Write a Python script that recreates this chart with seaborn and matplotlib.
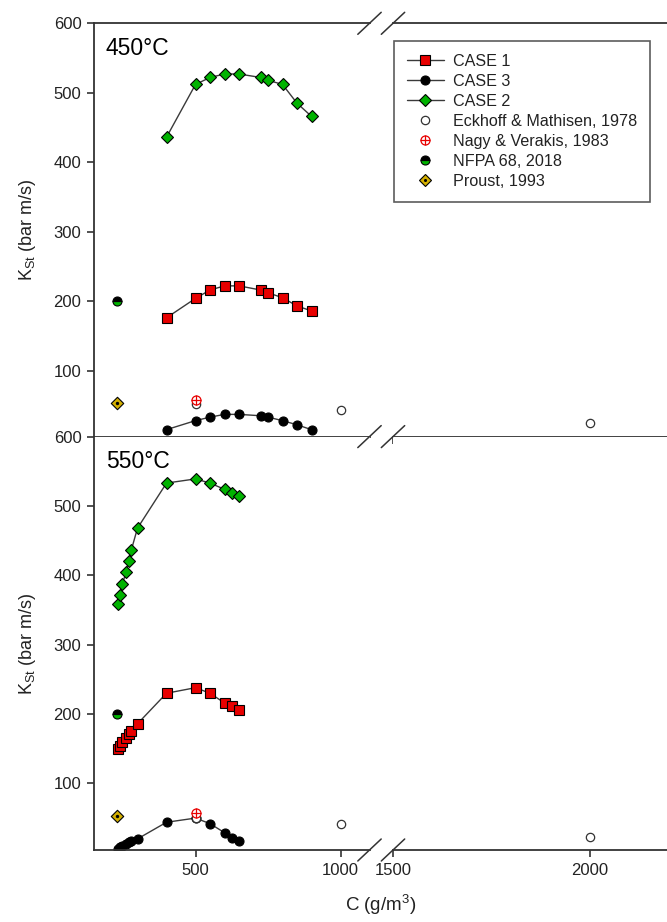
import numpy as np
import pandas as pd
import matplotlib
matplotlib.use("Agg")
import matplotlib.pyplot as plt
import seaborn as sns
from matplotlib.lines import Line2D
from matplotlib.legend_handler import HandlerTuple

# ---------------- data ----------------
top_x = [400, 500, 550, 600, 650, 725, 750, 800, 850, 900]
top_case1 = [176, 204, 216, 222, 222, 216, 212, 205, 193, 186]
top_case3 = [15, 28, 33, 37, 37, 35, 33, 28, 22, 15]
top_case2 = [436, 512, 522, 527, 527, 522, 518, 512, 485, 466]

bot_x = [233, 239, 248, 261, 269, 279, 300, 400, 500, 550, 600, 625, 650]
bot_case1 = [149, 154, 160, 165, 171, 176, 186, 230, 238, 230, 216, 211, 206]
bot_case3 = [6, 8, 10, 13, 15, 17, 20, 44, 50, 42, 29, 22, 17]
bot_case2 = [358, 371, 388, 405, 421, 437, 468, 533, 539, 533, 524, 519, 514]

eck_x = [500, 1000, 2000]
eck_top = [52, 43, 24]
eck_bot = [50, 41, 23]
nagy_x = [500]
nagy_top = [58]
nagy_bot = [58]
nfpa_x = [230]
nfpa_top = [200]
nfpa_bot = [200]
proust_x = [230]
proust_top = [54]
proust_bot = [53]

panel_labels = ["450°C", "550°C"]
yticks = [100, 200, 300, 400, 500, 600]
xticks_left = [500, 1000]
xticks_right = [1500, 2000]
legend_labels = ["CASE 1", "CASE 3", "CASE 2", "Eckhoff & Mathisen, 1978",
                 "Nagy & Verakis, 1983", "NFPA 68, 2018", "Proust, 1993"]

# ---------------- style ----------------
sns.set_theme(style="ticks")
plt.rcParams["font.family"] = ["Liberation Sans", "DejaVu Sans"]
plt.rcParams["axes.edgecolor"] = "#333333"
plt.rcParams["axes.linewidth"] = 1.3

RED = "#e80000"
GREEN = "#00b300"
GOLD = "#d4b000"
LINE = "#3a3a3a"
TXT = "#222222"

W, H = 667, 922
fig = plt.figure(figsize=(W / 100, H / 100), dpi=100)


def fx(px):
    return px / W


def fy(py):
    return 1 - py / H


XL = (94, 369.5)
XR = (393, 667)
panels = [(23.3, 436.6), (436.6, 850)]
ylims = [(5, 600), (4, 600)]

series_top = dict(x=top_x, c1=top_case1, c3=top_case3, c2=top_case2,
                  eck=eck_top, nagy=nagy_top, nfpa=nfpa_top, proust=proust_top)
series_bot = dict(x=bot_x, c1=bot_case1, c3=bot_case3, c2=bot_case2,
                  eck=eck_bot, nagy=nagy_bot, nfpa=nfpa_bot, proust=proust_bot)

for i, ((ytop, ybot), S, ylim) in enumerate(zip(panels, [series_top, series_bot], ylims)):
    axl = fig.add_axes([fx(XL[0]), fy(ybot), fx(XL[1]) - fx(XL[0]), fy(ytop) - fy(ybot)])
    axr = fig.add_axes([fx(XR[0]), fy(ybot), fx(XR[1]) - fx(XR[0]), fy(ytop) - fy(ybot)])
    df = pd.DataFrame({"C": S["x"], "c1": S["c1"], "c3": S["c3"], "c2": S["c2"]})
    common = dict(color=LINE, linewidth=1.0, markeredgecolor="black",
                  markeredgewidth=0.8, ax=axl, legend=False)
    sns.lineplot(data=df, x="C", y="c2", marker="D", markersize=6.4,
                 markerfacecolor=GREEN, **common)
    sns.lineplot(data=df, x="C", y="c1", marker="s", markersize=7.2,
                 markerfacecolor=RED, **common)
    sns.lineplot(data=df, x="C", y="c3", marker="o", markersize=6.5,
                 markerfacecolor="black", **common)

    # reference data
    for ax in (axl, axr):
        lo, hi = (150, 1100) if ax is axl else (1500, 2195)
        ex = [x for x in eck_x if lo <= x <= hi]
        ey = [y for x, y in zip(eck_x, S["eck"]) if lo <= x <= hi]
        if ex:
            sns.scatterplot(x=ex, y=ey, marker="o", s=36, facecolor="white",
                            edgecolor="#333333", linewidth=0.9, ax=ax, zorder=5, legend=False)
    sns.scatterplot(x=nagy_x, y=S["nagy"], marker="o", s=42, facecolor="white",
                    edgecolor=RED, linewidth=0.9, ax=axl, zorder=6, legend=False)
    sns.scatterplot(x=nagy_x, y=S["nagy"], marker="+", s=42, color=RED,
                    linewidth=0.9, ax=axl, zorder=7, legend=False)
    sns.lineplot(x=nfpa_x, y=S["nfpa"], marker="o", markersize=6.5, linestyle="",
                 fillstyle="bottom", markerfacecolor=GREEN, markerfacecoloralt="black",
                 markeredgecolor="black", markeredgewidth=0.8, ax=axl, legend=False)
    sns.scatterplot(x=proust_x, y=S["proust"], marker="D", s=40, facecolor=GOLD,
                    edgecolor="black", linewidth=0.8, ax=axl, zorder=5, legend=False)
    sns.scatterplot(x=proust_x, y=S["proust"], marker="o", s=6, color="black",
                    linewidth=0, ax=axl, zorder=6, legend=False)

    for ax in (axl, axr):
        ax.set_ylim(*ylim)
        ax.set_xlabel("")
        ax.set_ylabel("")
        ax.spines["right"].set_visible(False)
        ax.spines["top"].set_visible(i == 0)
    axl.set_xlim(150, 1100)
    axr.set_xlim(1500, 2195)
    axr.spines["left"].set_visible(False)
    axl.set_yticks(yticks)
    axr.set_yticks([])
    axl.set_xticks(xticks_left)
    axr.set_xticks(xticks_right)
    for ax in (axl, axr):
        ax.tick_params(axis="both", direction="out", length=5, width=1.2,
                       color="#333333", labelsize=12, labelcolor=TXT, pad=4)
        ax.tick_params(axis="x", labelbottom=(i == 1))
    axl.set_ylabel(r"K$_\mathregular{St}$ (bar m/s)", fontsize=13, color=TXT)
    axl.yaxis.set_label_coords((38 - XL[0]) / (XL[1] - XL[0]), 0.5)
    fig.text(fx(106), fy(ytop + 25), panel_labels[i], fontsize=16.5, color="black",
             ha="left", va="center")

    if i == 0:
        handles = [
            Line2D([], [], color=LINE, lw=1.0, marker="s", ms=7.2, mfc=RED, mec="black", mew=0.8),
            Line2D([], [], color=LINE, lw=1.0, marker="o", ms=6.5, mfc="black", mec="black", mew=0.8),
            Line2D([], [], color=LINE, lw=1.0, marker="D", ms=6.4, mfc=GREEN, mec="black", mew=0.8),
            Line2D([], [], ls="", marker="o", ms=6, mfc="white", mec="#333333", mew=0.9),
            (Line2D([], [], ls="", marker="o", ms=6.5, mfc="white", mec=RED, mew=0.9),
             Line2D([], [], ls="", marker="+", ms=6.5, mec=RED, mew=0.9)),
            Line2D([], [], ls="", marker="o", ms=6.5, fillstyle="bottom", mfc=GREEN,
                   markerfacecoloralt="black", mec="black", mew=0.8),
            (Line2D([], [], ls="", marker="D", ms=6, mfc=GOLD, mec="black", mew=0.8),
             Line2D([], [], ls="", marker="o", ms=2.2, mfc="black", mec="black", mew=0)),
        ]
        leg = fig.legend(handles, legend_labels, loc="upper left",
                         bbox_to_anchor=(fx(394), fy(41)), bbox_transform=fig.transFigure,
                         fontsize=11.6, frameon=True, fancybox=False, borderpad=0.8,
                         handlelength=2.3, handletextpad=0.55, labelspacing=0.31,
                         borderaxespad=0, handler_map={tuple: HandlerTuple(ndivide=1, pad=0)})
        leg.get_frame().set_edgecolor("#333333")
        leg.get_frame().set_linewidth(1.2)
        for t in leg.get_texts():
            t.set_color(TXT)

# axis break marks
for yb in (23.3, 436.6, 850):
    for xb in (369.5, 393):
        fig.add_artist(Line2D([fx(xb - 11.7), fx(xb + 11.7)], [fy(yb + 11), fy(yb - 11)],
                              color="#333333", lw=1.1, transform=fig.transFigure))

fig.text(fx(381), fy(905), r"C (g/m$^\mathregular{3}$)", fontsize=13.5, color=TXT,
         ha="center", va="center")

fig.savefig("out.png", dpi=100, facecolor="white")
